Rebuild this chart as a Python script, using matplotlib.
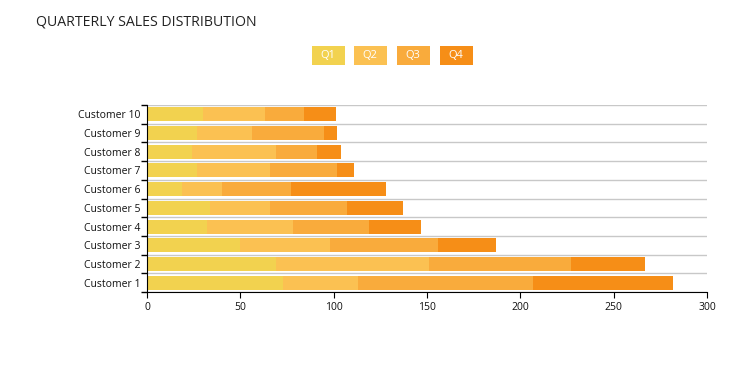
import matplotlib
matplotlib.use('Agg')
import matplotlib.pyplot as plt
from matplotlib.patches import Rectangle
import numpy as np

customers = ['Customer 1', 'Customer 2', 'Customer 3', 'Customer 4', 'Customer 5',
             'Customer 6', 'Customer 7', 'Customer 8', 'Customer 9', 'Customer 10']
q1 = [73, 69, 50, 32, 34, 19, 27, 24, 27, 30]
q2 = [40, 82, 48, 46, 32, 21, 39, 45, 29, 33]
q3 = [94, 76, 58, 41, 41, 37, 36, 22, 39, 21]
q4 = [75, 40, 31, 28, 30, 51, 9, 13, 7, 17]
quarters = ['Q1', 'Q2', 'Q3', 'Q4']
colors = ['#F2D24F', '#FBC152', '#F9AB3C', '#F68E17']

plt.rcParams['font.family'] = ['Open Sans', 'DejaVu Sans']

W, H = 755, 368
fig = plt.figure(figsize=(W / 100, H / 100), dpi=100)
ax = fig.add_axes([147 / W, 1 - 292 / H, 560 / W, 187 / H])

y = np.arange(len(customers))
left = np.zeros(len(customers))
for vals, c in zip([q1, q2, q3, q4], colors):
    ax.barh(y, vals, left=left, height=0.75, color=c, zorder=2)
    left += np.array(vals)

ax.set_xlim(0, 300)
ax.set_ylim(-0.5, 9.5)
ax.set_xticks(range(0, 301, 50))
ax.set_yticks(y)
ax.set_yticklabels(customers)
ax.set_yticks(np.arange(-0.5, 10, 1), minor=True)
ax.tick_params(axis='y', which='major', length=0, labelsize=7.5, pad=5, labelcolor='#111111')
ax.tick_params(axis='y', which='minor', length=4, width=1)
ax.tick_params(axis='x', length=4, labelsize=7.5, labelcolor='#111111')
ax.grid(axis='y', which='minor', color='#c8c8c8', linewidth=1, zorder=0)
for s in ['top', 'right']:
    ax.spines[s].set_visible(False)

fig.text(36 / W, 1 - 22 / H, 'QUARTERLY SALES DISTRIBUTION', fontsize=10.2,
         va='center', ha='left', color='#222222')

# legend boxes
box_x = [312, 354, 397, 440]
for q, c, bx in zip(quarters, colors, box_x):
    fig.patches.append(Rectangle((bx / W, 1 - 64.5 / H), 32.5 / W, 18.5 / H,
                                 transform=fig.transFigure, facecolor=c, edgecolor='none'))
    fig.text((bx + 16.25) / W, 1 - 55.5 / H, q, fontsize=8, color='white',
             ha='center', va='center')

plt.savefig('out.png', dpi=100)
